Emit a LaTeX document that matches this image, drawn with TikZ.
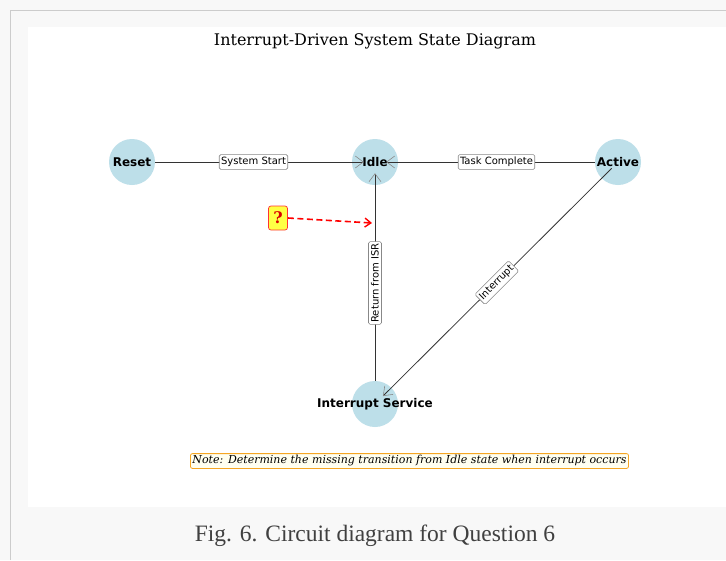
\documentclass[tikz,border=0pt]{standalone}
\usepackage{fontspec}
\setmainfont{DejaVu Sans}
\newfontfamily\serifdv{DejaVu Serif}
\newfontfamily\capfont{Liberation Serif}
\usetikzlibrary{arrows.meta}
\definecolor{statefill}{HTML}{BDDFE9}
\definecolor{edgecol}{HTML}{333333}
\definecolor{tipcol}{HTML}{8A8A8A}
\definecolor{lblborder}{HTML}{888888}
\definecolor{notefill}{HTML}{FFFFF0}
\definecolor{noteborder}{HTML}{F5A623}
\definecolor{qfill}{HTML}{FFFF44}
\definecolor{pagebg}{HTML}{F8F8F8}
\tikzset{
  state/.style={circle, fill=statefill, draw=none, minimum size=46pt, inner sep=0pt, font=\fontsize{12}{14}\selectfont\bfseries},
  trans/.style={draw=edgecol, line width=0.8pt, shorten >=-12pt, -{Straight Barb[length=8pt,width=12pt,line width=0.6pt,color=tipcol]}},
  lbl/.style={fill=white, draw=lblborder, rounded corners=1.5pt, inner xsep=1.8pt, inner ysep=2.6pt, line width=0.6pt, font=\fontsize{10}{11}\selectfont},
}
\begin{document}
\begin{tikzpicture}[x=1pt,y=-1pt]
\useasboundingbox (0,0) rectangle (726,560);
\fill[pagebg] (0,0) rectangle (726,560);
\draw[draw=black!20, line width=1pt] (10,560) -- (10,10) -- (726,10);
\fill[white] (28,27) rectangle (726,507);
\node (title) at (375,41) {\serifdv\fontsize{16}{18}\selectfont Interrupt-Driven System State Diagram};
\node[state] (reset) at (132,162) {Reset};
\node[state] (idle) at (375,162) {Idle};
\node[state] (active) at (618,162) {Active};
\node[state, label={[font=\fontsize{12}{14}\selectfont\bfseries]center:Interrupt Service}] (isr) at (375,404) {};
\draw[trans] (reset) -- (idle) node[lbl, midway] {System Start};
\draw[trans] (active) -- (idle) node[lbl, midway] {Task Complete};
\draw[trans] (isr) -- (idle) node[lbl, midway, rotate=90] {Return from ISR};
\draw[trans, shorten <=9pt] (active.center) -- (isr) node[lbl, pos=0.535, rotate=45] {Interrupt};
\node[draw=red!80, fill=qfill, rounded corners=2.5pt, line width=0.7pt, minimum width=19pt, minimum height=24pt, inner sep=1pt, text=red!85!black, font=\serifdv\fontsize{16}{18}\selectfont\bfseries] (q) at (278,218) {?};
\coordinate (qt) at (372,223);
\draw[red, line width=1.6pt, dashed, dash pattern=on 6pt off 3.5pt, -{Straight Barb[length=6pt,width=9pt,line width=1.4pt]}] (q.east) -- (qt);
\node[draw=noteborder, fill=notefill, rounded corners=2pt, line width=0.8pt, inner sep=2pt, font=\serifdv\itshape\fontsize{11}{13}\selectfont] (note) at (409.5,461) {Note: Determine the missing transition from Idle state when interrupt occurs};
\node[text=black!75, font=\capfont\fontsize{23.5}{26}\selectfont] (cap) at (375,536) {Fig. 6. Circuit diagram for Question 6};
\end{tikzpicture}
\end{document}
